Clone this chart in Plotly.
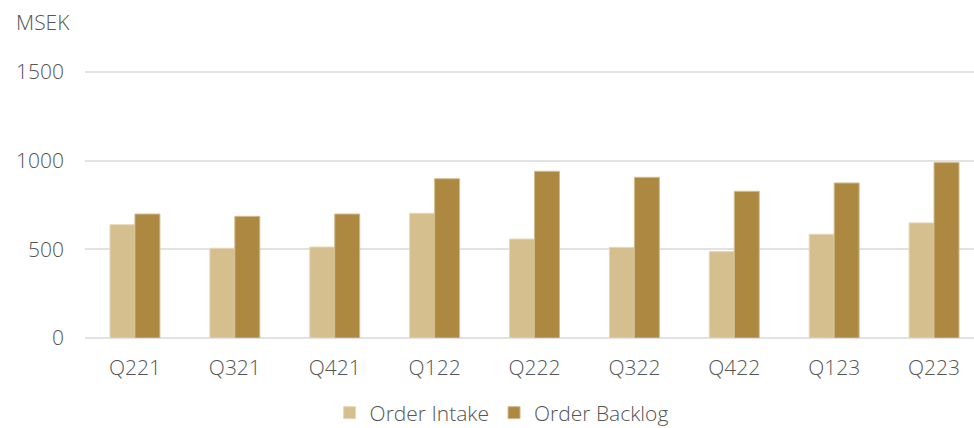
import plotly.graph_objects as go

quarters = ["Q221", "Q321", "Q421", "Q122", "Q222", "Q322", "Q422", "Q123", "Q223"]
order_intake = [639, 506, 513, 703, 558, 511, 487, 585, 649]
order_backlog = [699, 686, 699, 898, 940, 906, 827, 874, 989]
y_ticks = [0, 500, 1000, 1500]

font_family = "Open Sans, sans-serif"
text_color = "#555555"
fs = 21

fig = go.Figure()
fig.add_trace(go.Bar(name="Order Intake", x=quarters, y=order_intake,
                     marker=dict(color="#D6BF8F", line=dict(color="#E6D8B8", width=1))))
fig.add_trace(go.Bar(name="Order Backlog", x=quarters, y=order_backlog,
                     marker=dict(color="#AD8841", line=dict(color="#D2BC8E", width=1))))

fig.update_layout(
    width=974, height=428,
    margin=dict(l=85, r=0, t=70, b=90, autoexpand=False),
    paper_bgcolor="white", plot_bgcolor="white",
    barmode="group", bargap=0.5, bargroupgap=0,
    font=dict(family=font_family, size=fs, color=text_color, weight=300),
    showlegend=True,
    legend=dict(orientation="h", x=0.515, xanchor="center", xref="container",
                y=15/428, yanchor="middle", yref="container",
                font=dict(size=fs, color=text_color, weight=300), itemwidth=30, tracegroupgap=0),
    xaxis=dict(range=[-0.5, 8.4], showgrid=False, showline=False, ticks="",
               tickfont=dict(size=fs, color=text_color, weight=300), ticklabelstandoff=15),
    yaxis=dict(range=[0, 1511], tickvals=y_ticks, showgrid=True, gridcolor="#E2E2E2",
               gridwidth=2, zeroline=True, zerolinecolor="#E2E2E2", zerolinewidth=2,
               tickfont=dict(size=fs, color=text_color, weight=300), ticklabelstandoff=20),
    annotations=[dict(text="MSEK", xref="paper", yref="paper", x=-71/889, y=1 + 48/268,
                      xanchor="left", yanchor="middle", showarrow=False,
                      font=dict(size=fs, color=text_color, weight=300))],
)

fig.write_html("out.html")
